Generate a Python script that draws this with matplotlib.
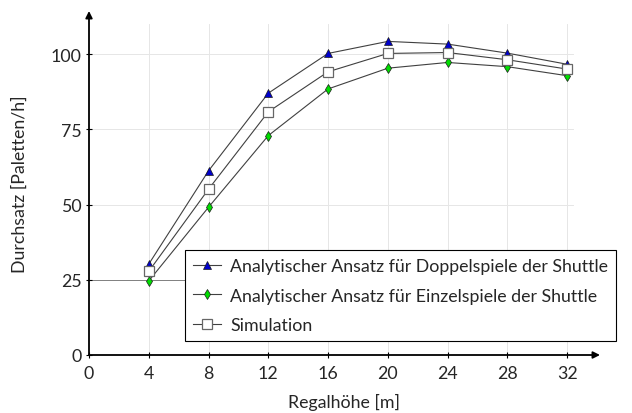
import matplotlib.pyplot as plt
import numpy as np

plt.rcParams['font.family'] = ['Lato', 'DejaVu Sans']

hoehe = [4, 8, 12, 16, 20, 24, 28, 32]
doppel = [30.2, 61.2, 87.0, 100.2, 104.2, 103.3, 100.3, 96.6]
einzel = [24.6, 49.1, 72.9, 88.4, 95.3, 97.2, 95.8, 92.8]
simulation = [27.8, 55.1, 80.8, 94.1, 100.2, 100.5, 98.1, 95.0]

xticks = [0, 4, 8, 12, 16, 20, 24, 28, 32]
yticks = [0, 25, 50, 75, 100]

fs = 12.8

fig = plt.figure(figsize=(6.32, 4.14), dpi=100)
ax = fig.add_axes([89/632, 58/414, 511/632, 344/414])
ax.set_xlim(0, 34.2)
ax.set_ylim(0, 114.3)

# grid (only up to the top of the data range)
for xv in xticks[1:]:
    ax.plot([xv, xv], [0, 110], color='0.9', lw=0.7, zorder=0)
for yv in yticks[1:]:
    ax.plot([-0.4, 32.4], [yv, yv], color='0.9', lw=0.7, zorder=0)
ax.axhline(25, xmin=0, xmax=0.2, color='0.5', lw=0.7, zorder=0.5)

ax.plot(hoehe, doppel, color='0.25', lw=0.8, marker='^', ms=5.5,
        mfc='#0000cc', mec='0.1', mew=0.5, label='Analytischer Ansatz für Doppelspiele der Shuttle', zorder=3)
ax.plot(hoehe, einzel, color='0.25', lw=0.8, marker='d', ms=5.5,
        mfc='#00dd00', mec='0.1', mew=0.5, label='Analytischer Ansatz für Einzelspiele der Shuttle', zorder=3)
ax.plot(hoehe, simulation, color='0.25', lw=0.8, marker='s', ms=6.8,
        mfc='white', mec='0.4', mew=0.9, label='Simulation', zorder=3)

for s in ax.spines.values():
    s.set_visible(False)
ax.annotate('', xy=(1, 0), xytext=(0, 0), xycoords='axes fraction',
            arrowprops=dict(arrowstyle='-|>', color='black', lw=1.3, mutation_scale=10, shrinkA=0, shrinkB=0))
ax.annotate('', xy=(0, 1), xytext=(0, 0), xycoords='axes fraction',
            arrowprops=dict(arrowstyle='-|>', color='black', lw=1.3, mutation_scale=10, shrinkA=0, shrinkB=0))

ax.set_xticks(xticks)
ax.set_yticks(yticks)
ax.tick_params(direction='inout', length=5, width=0.8, labelsize=fs, pad=3, labelcolor='0.15')
ax.tick_params(axis='x', pad=5)
ax.set_xlabel('Regalhöhe [m]', fontsize=fs, labelpad=8, color='0.15')
ax.set_ylabel('Durchsatz [Paletten/h]', fontsize=fs, labelpad=16, color='0.15')

leg = ax.legend(loc='lower right', bbox_to_anchor=(616/632, (414-342)/414),
                bbox_transform=fig.transFigure, fontsize=fs, frameon=True, fancybox=False,
                edgecolor='black', framealpha=1, handlelength=1.6, handletextpad=0.5,
                borderpad=0.45, labelspacing=0.75, borderaxespad=0)
leg.get_frame().set_linewidth(0.8)
for t in leg.get_texts():
    t.set_color('0.15')

fig.savefig('out.png', dpi=100)
